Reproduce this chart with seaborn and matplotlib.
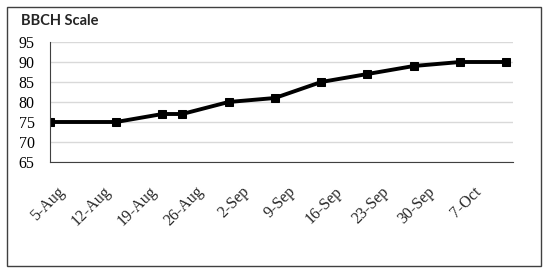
"""BBCH scale over the season, drawn as a single line on a weekly date axis."""
import matplotlib
matplotlib.use("Agg")
import matplotlib.pyplot as plt
import matplotlib.transforms as mtransforms
from matplotlib.patches import Rectangle
import pandas as pd
import seaborn as sns

# data
obs_dates = ["2019-08-05", "2019-08-15", "2019-08-22", "2019-08-25", "2019-09-01",
             "2019-09-08", "2019-09-15", "2019-09-22", "2019-09-29", "2019-10-06",
             "2019-10-13"]
bbch = [75, 75, 77, 77, 80, 81, 85, 87, 89, 90, 90]

tick_dates = pd.date_range("2019-08-05", "2019-10-14", freq="7D")
tick_labels = ["5-Aug", "12-Aug", "19-Aug", "26-Aug", "2-Sep", "9-Sep",
               "16-Sep", "23-Sep", "30-Sep", "7-Oct", ""]
y_ticks = [65, 70, 75, 80, 85, 90, 95]

df = pd.DataFrame({"date": pd.to_datetime(obs_dates), "bbch": bbch})

sns.set_style("white")
plt.rcParams["font.family"] = ["Liberation Serif", "DejaVu Serif"]

fig = plt.figure(figsize=(5.5, 2.74), dpi=100)
ax = fig.add_axes([50 / 550, 1 - 162 / 274, 463 / 550, 120 / 274])

sns.lineplot(data=df, x="date", y="bbch", ax=ax, color="black", lw=2.8,
             marker="s", markersize=5.5, markeredgecolor="black")

ax.set_xlim(tick_dates[0], tick_dates[-1])
ax.set_ylim(65, 95)
ax.set_yticks(y_ticks)
ax.yaxis.grid(True, color="#d9d9d9", lw=1)
ax.set_xticks(tick_dates)
ax.set_xticklabels(tick_labels)
ax.set_xlabel("")
ax.set_ylabel("")

for side in ["top", "right"]:
    ax.spines[side].set_visible(False)
ax.spines["left"].set_color("#404040")
ax.spines["bottom"].set_color("#404040")

ax.tick_params(axis="y", length=0, pad=11, labelsize=11.5, colors="black")
ax.tick_params(axis="x", length=4, width=1, color="#404040", direction="out",
               labelsize=11.5, pad=2)

# rotated labels, nudged like the spreadsheet layout
offset = mtransforms.ScaledTranslation(12 / 100, -19 / 100, fig.dpi_scale_trans)
for lbl in ax.get_xticklabels():
    lbl.set_rotation(45)
    lbl.set_ha("right")
    lbl.set_va("center")
    lbl.set_rotation_mode("anchor")
    lbl.set_transform(lbl.get_transform() + offset)

fig.text(21 / 550, 1 - 21 / 274, "BBCH Scale", fontsize=10.5, fontweight="bold",
         family=["Lato", "DejaVu Sans"], va="center", ha="left")

fig.patches.append(Rectangle((7 / 550, 1 - 266 / 274), 534 / 550, 259 / 274,
                             transform=fig.transFigure, fill=False,
                             edgecolor="#404040", lw=1))

fig.savefig("out.png", dpi=100)
